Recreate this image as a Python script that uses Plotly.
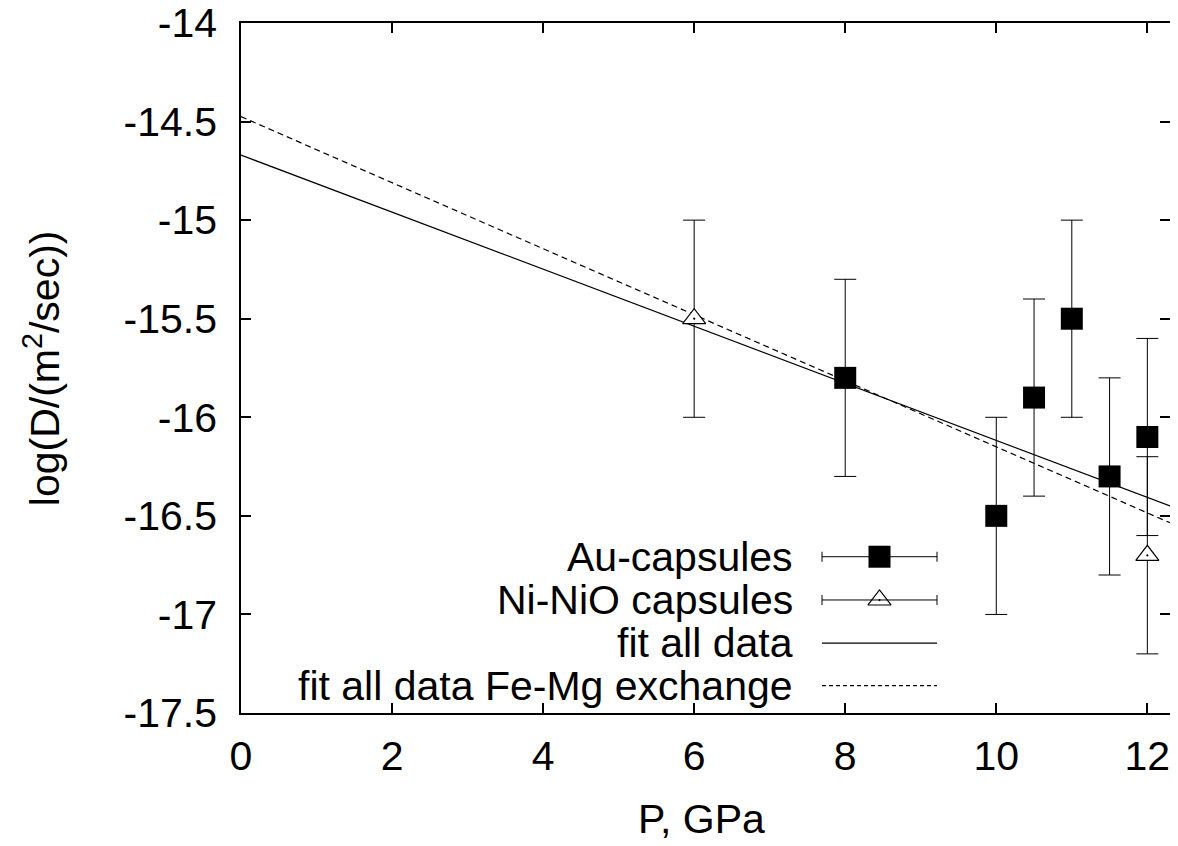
import plotly.graph_objects as go

# ---- data ----
au_p = [8, 10, 10.5, 11, 11.5, 12]
au_logD = [-15.8, -16.5, -15.9, -15.5, -16.3, -16.1]
au_err = [0.5, 0.5, 0.5, 0.5, 0.5, 0.5]

ni_p = [6, 12]
ni_logD = [-15.5, -16.7]
ni_err = [0.5, 0.5]

fit_p = [0, 12.3]
fit_all = [-14.67, -16.45]
fit_femg = [-14.475, -16.535]

x_ticks = [0, 2, 4, 6, 8, 10, 12]
y_ticks = [-14, -14.5, -15, -15.5, -16, -16.5, -17, -17.5]
y_tick_text = ["-14", "-14.5", "-15", "-15.5", "-16", "-16.5", "-17", "-17.5"]

legend_names = ["Au-capsules", "Ni-NiO capsules", "fit all data", "fit all data Fe-Mg exchange"]

FONT = "Liberation Sans, Arial, sans-serif"
FS = 41

fig = go.Figure()

# fit lines
fig.add_trace(go.Scatter(x=fit_p, y=fit_all, mode="lines",
                         line=dict(color="black", width=1.2), showlegend=False))
fig.add_trace(go.Scatter(x=fit_p, y=fit_femg, mode="lines",
                         line=dict(color="black", width=1.2, dash="6px,4px"), showlegend=False))

# data with error bars
fig.add_trace(go.Scatter(x=au_p, y=au_logD, mode="markers",
                         marker=dict(symbol="square", size=22, color="black"),
                         error_y=dict(type="data", array=au_err, visible=True,
                                      color="black", thickness=1, width=11),
                         showlegend=False))
fig.add_trace(go.Scatter(x=ni_p, y=ni_logD, mode="markers",
                         marker=dict(symbol="triangle-up-dot", size=20, color="white",
                                     line=dict(color="black", width=1.2)),
                         error_y=dict(type="data", array=ni_err, visible=True,
                                      color="black", thickness=1, width=11),
                         showlegend=False))

# ---- custom gnuplot-style legend on overlay axes (0..1 box coords) ----
leg_rows = [0.2265, 0.1638, 0.1014, 0.0396]
leg_x0, leg_x1 = 0.6254, 0.7492
leg_xc = (leg_x0 + leg_x1) / 2
leg_half = (leg_x1 - leg_x0) / 2
leg_text_x = 0.5963

fig.add_trace(go.Scatter(x=[leg_xc], y=[leg_rows[0]], xaxis="x2", yaxis="y2", mode="markers",
                         marker=dict(symbol="square", size=22, color="black"),
                         error_x=dict(type="constant", value=leg_half, visible=True,
                                      color="black", thickness=1, width=5),
                         showlegend=False, hoverinfo="skip"))
fig.add_trace(go.Scatter(x=[leg_xc], y=[leg_rows[1]], xaxis="x2", yaxis="y2", mode="markers",
                         marker=dict(symbol="triangle-up-dot", size=20, color="rgba(0,0,0,0)",
                                     line=dict(color="black", width=1.2)),
                         error_x=dict(type="constant", value=leg_half, visible=True,
                                      color="black", thickness=1, width=5),
                         showlegend=False, hoverinfo="skip"))
fig.add_trace(go.Scatter(x=[leg_x0, leg_x1], y=[leg_rows[2]] * 2, xaxis="x2", yaxis="y2",
                         mode="lines", line=dict(color="black", width=1.2),
                         showlegend=False, hoverinfo="skip"))
fig.add_trace(go.Scatter(x=[leg_x0, leg_x1], y=[leg_rows[3]] * 2, xaxis="x2", yaxis="y2",
                         mode="lines", line=dict(color="black", width=1.2, dash="4px,3px"),
                         showlegend=False, hoverinfo="skip"))

annotations = []
for name, ry in zip(legend_names, leg_rows):
    annotations.append(dict(x=leg_text_x, y=ry, xref="paper", yref="paper", text=name,
                            showarrow=False, xanchor="right", yanchor="middle",
                            font=dict(family=FONT, size=FS, color="black")))

annotations.append(dict(x=0.496, y=-0.153, xref="paper", yref="paper", text="P, GPa",
                        showarrow=False, xanchor="center", yanchor="middle",
                        font=dict(family=FONT, size=FS, color="black")))
annotations.append(dict(x=-0.214, y=0.5, xref="paper", yref="paper",
                        text="log(D/(m<sup>2</sup>/sec))", textangle=-90,
                        showarrow=False, xanchor="center", yanchor="middle",
                        font=dict(family=FONT, size=FS, color="black")))

axis_common = dict(showline=True, linecolor="black", linewidth=1.5, mirror="ticks",
                   ticks="inside", ticklen=10, tickwidth=1.5, tickcolor="black",
                   showgrid=False, zeroline=False, automargin=False,
                   ticklabeloverflow="allow",
                   tickfont=dict(family=FONT, size=FS, color="black"))

# page body has an 8px margin: size/margins compensate so the plot box lands at
# x 241..1170, y 23..713 in the 1178x846 window
fig.update_layout(
    width=1170, height=838,
    margin=dict(l=233, r=8, t=15, b=133),
    paper_bgcolor="white", plot_bgcolor="white",
    xaxis=dict(range=[0, 12.3], tickvals=x_ticks, ticklabelstandoff=6, **axis_common),
    yaxis=dict(range=[-17.5, -14], tickvals=y_ticks, ticktext=y_tick_text,
               ticklabelstandoff=14, **axis_common),
    xaxis2=dict(overlaying="x", range=[0, 1], visible=False),
    yaxis2=dict(overlaying="y", range=[0, 1], visible=False),
    annotations=annotations,
    showlegend=False,
)

fig.write_html("out.html")
